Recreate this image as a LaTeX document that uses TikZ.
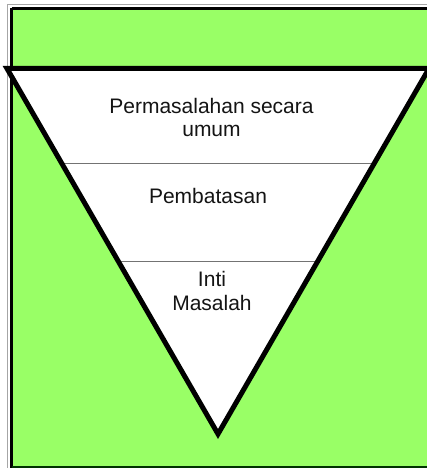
\documentclass[tikz,border=0pt]{standalone}
\usepackage{fontspec}
\setmainfont{Liberation Sans}
\usetikzlibrary{calc}
\definecolor{bggreen}{RGB}{153,255,102}
\definecolor{txt}{RGB}{20,20,20}
\begin{document}
\begin{tikzpicture}[x=1pt,y=-1pt,
  lbl/.style={font=\fontsize{21}{23.4}\selectfont,text=txt,align=center,inner sep=0pt,anchor=base},
  divider/.style={draw=black!55,line width=1pt},
  edge/.style={draw=black,line width=5pt,line join=miter}]
\useasboundingbox (0,0) rectangle (426,468);
\fill[white] (0,0) rectangle (426,468);
% frame
\fill[bggreen] (12,10) rectangle (432,466);
\draw[black!35,line width=1.2pt] (7.5,4.5) -- (432,4.5);
\draw[black!35,line width=1.2pt] (7.5,4.5) -- (7.5,468);
\draw[black,line width=3pt] (11.5,8.5) -- (432,8.5);
\draw[black,line width=3pt] (11.5,8.5) -- (11.5,468);
\draw[black!80!green,line width=1.5pt] (11.5,466.8) -- (432,466.8);
% triangle
\coordinate (tl) at (7,68.5);
\coordinate (tr) at (429,68.5);
\coordinate (ap) at (218,434);
\fill[white] (tl) -- (tr) -- (ap) -- cycle;
% dividers
\coordinate (d1l) at ($(tl)!{(163.5-68.5)/(434-68.5)}!(ap)$);
\coordinate (d1r) at ($(tr)!{(163.5-68.5)/(434-68.5)}!(ap)$);
\coordinate (d2l) at ($(tl)!{(261-68.5)/(434-68.5)}!(ap)$);
\coordinate (d2r) at ($(tr)!{(261-68.5)/(434-68.5)}!(ap)$);
\draw[divider] (d1l) -- (d1r);
\draw[divider] (d2l) -- (d2r);
\draw[edge] (tl) -- (tr) -- (ap) -- cycle;
% labels (base anchor = baseline of the last line)
\node[lbl] (t1) at (211.5,136.7) {Permasalahan secara\\umum};
\node[lbl] (t2) at (208,203) {Pembatasan};
\node[lbl] (t3) at (212,310) {Inti\\Masalah};
\end{tikzpicture}
\end{document}
